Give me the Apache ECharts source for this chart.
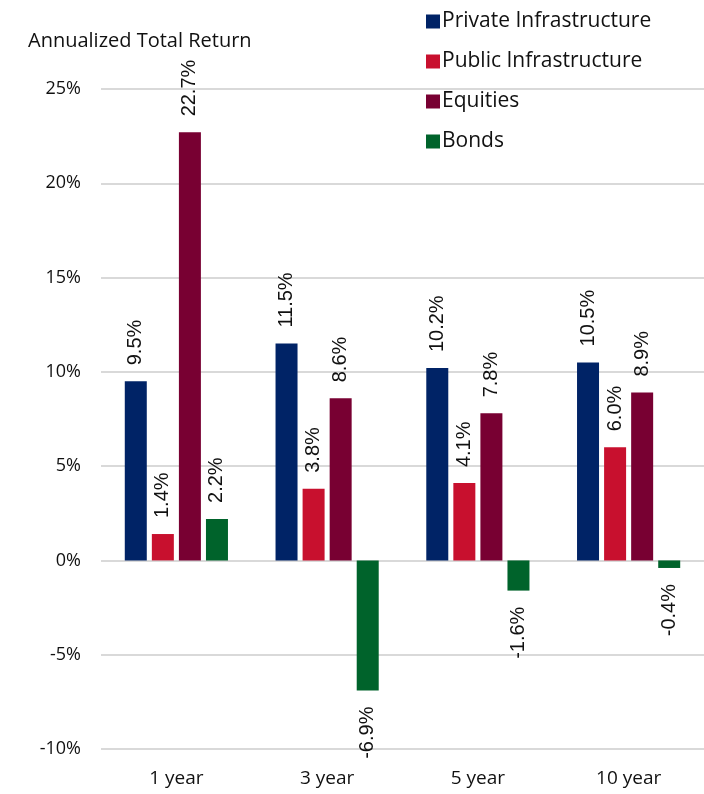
<!DOCTYPE html>
<html>
<head>
<meta charset="utf-8">
<script src="https://cdn.jsdelivr.net/npm/echarts@6/dist/echarts.min.js"></script>
<style>
  html, body { margin: 0; padding: 0; background: #fff; }
  #main { width: 704px; height: 794px; }
</style>
</head>
<body>
<div id="main"></div>
<script>
// 数据
var categories = ['1 year', '3 year', '5 year', '10 year'];
var privateInfra = [9.5, 11.5, 10.2, 10.5];
var publicInfra = [1.4, 3.8, 4.1, 6.0];
var equities = [22.7, 8.6, 7.8, 8.9];
var bonds = [2.2, -6.9, -1.6, -0.4];
var seriesNames = ['Private Infrastructure', 'Public Infrastructure', 'Equities', 'Bonds'];
var colors = ['#002366', '#C8102E', '#780032', '#00632B'];

var axisFont = '"Open Sans", sans-serif';
var labelFont = '"Liberation Sans", Arial, sans-serif';

var myChart = echarts.init(document.getElementById('main'));

// 正数标签在柱顶，负数标签在柱底
function makeData(values) {
  return values.map(function (v) {
    if (v < 0) {
      return {
        value: v,
        label: { position: 'bottom', align: 'right' }
      };
    }
    return v;
  });
}

function makeSeries(name, values, idx) {
  return {
    name: name,
    type: 'bar',
    barWidth: 22,
    barGap: '23%',
    data: makeData(values),
    itemStyle: { color: colors[idx] },
    label: {
      show: true,
      position: 'top',
      rotate: 90,
      align: 'left',
      verticalAlign: 'middle',
      distance: 16,
      fontFamily: labelFont,
      fontSize: 20,
      color: '#111',
      formatter: function (p) { return p.value.toFixed(1) + '%'; }
    }
  };
}

var option = {
  animation: false,
  color: colors,
  title: {
    text: 'Annualized Total Return',
    left: 23,
    top: 26,
    textStyle: {
      fontFamily: axisFont,
      fontSize: 20,
      fontWeight: 'normal',
      color: '#111'
    }
  },
  legend: {
    orient: 'vertical',
    left: 421,
    top: 6,
    itemWidth: 14,
    itemHeight: 14,
    itemGap: 19,
    icon: 'rect',
    textStyle: {
      fontFamily: axisFont,
      fontSize: 21,
      color: '#111',
      padding: [0, 0, 0, -3]
    },
    data: seriesNames
  },
  grid: {
    left: 101,
    right: 0,
    top: 89,
    bottom: 45
  },
  xAxis: {
    type: 'category',
    data: categories,
    axisLine: { show: false, onZero: false },
    axisTick: { show: false },
    axisLabel: {
      margin: 20,
      fontFamily: axisFont,
      fontSize: 19,
      color: '#111'
    }
  },
  yAxis: {
    type: 'value',
    min: -10,
    max: 25,
    interval: 5,
    axisLine: { show: false },
    axisTick: { show: false },
    splitLine: { lineStyle: { color: '#d9d9d9', width: 2 } },
    axisLabel: {
      margin: 20,
      fontFamily: axisFont,
      fontSize: 18,
      color: '#111',
      formatter: '{value}%'
    }
  },
  series: [
    makeSeries(seriesNames[0], privateInfra, 0),
    makeSeries(seriesNames[1], publicInfra, 1),
    makeSeries(seriesNames[2], equities, 2),
    makeSeries(seriesNames[3], bonds, 3)
  ]
};

myChart.setOption(option);
</script>
</body>
</html>
